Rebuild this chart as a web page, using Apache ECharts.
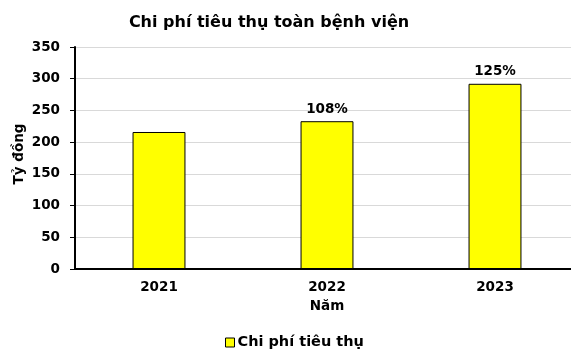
<!DOCTYPE html>
<html>
<head>
<meta charset="utf-8">
<script src="https://cdn.jsdelivr.net/npm/echarts@6/dist/echarts.min.js"></script>
<style>
  html, body { margin: 0; padding: 0; background: #ffffff; }
  #chart { width: 571px; height: 349px; }
</style>
</head>
<body>
<div id="chart"></div>
<script>
// Hospital-wide consumption cost, billions of VND
const years = ['2021', '2022', '2023'];
const costValues = [216, 233, 292];
// Year-on-year ratio shown above each bar (none for the first year)
const growthLabels = ['', '108%', '125%'];
const yTicks = { min: 0, max: 350, step: 50 };

const FONT = '"DejaVu Sans", "Liberation Sans", Arial, sans-serif';
const txt = (size) => ({ fontFamily: FONT, fontSize: size, fontWeight: 'bold', color: '#000' });

const chart = echarts.init(document.getElementById('chart'));
chart.setOption({
  backgroundColor: '#ffffff',
  animation: false,
  textStyle: { fontFamily: FONT },
  title: {
    text: 'Chi phí tiêu thụ toàn bệnh viện',
    left: 264,
    top: 10,
    textAlign: 'center',
    textStyle: txt(16)
  },
  legend: {
    data: ['Chi phí tiêu thụ'],
    left: 220,
    top: 330,
    icon: 'rect',
    itemWidth: 9,
    itemHeight: 9,
    itemGap: 4,
    itemStyle: { borderColor: '#000', borderWidth: 1 },
    textStyle: Object.assign(txt(14.5), { padding: [0, 0, 0, -2] })
  },
  grid: { left: 75, top: 47, width: 504, height: 222, outerBoundsMode: 'none', containLabel: false },
  xAxis: {
    type: 'category',
    data: years,
    name: 'Năm',
    nameLocation: 'middle',
    nameGap: 30,
    nameMoveOverlap: false,
    nameTextStyle: Object.assign(txt(13.5), { verticalAlign: 'top' }),
    axisLine: { lineStyle: { color: '#000', width: 2 } },
    axisTick: { show: false },
    axisLabel: Object.assign(txt(13.5), { margin: 11 })
  },
  yAxis: {
    type: 'value',
    min: yTicks.min,
    max: yTicks.max,
    interval: yTicks.step,
    name: 'Tỷ đồng',
    nameLocation: 'middle',
    nameGap: 49,
    nameRotate: 90,
    nameMoveOverlap: false,
    nameTextStyle: Object.assign(txt(13.5), { padding: [0, 0, 0, 8] }),
    axisLine: { show: true, lineStyle: { color: '#000', width: 2 } },
    axisTick: { show: true, length: 5, lineStyle: { color: '#000', width: 1 } },
    axisLabel: Object.assign(txt(13.5), { margin: 15 }),
    splitLine: { show: true, lineStyle: { color: '#d9d9d9', width: 1 } }
  },
  series: [{
    name: 'Chi phí tiêu thụ',
    type: 'bar',
    data: costValues,
    barWidth: '31.5%',
    itemStyle: { color: '#ffff00', borderColor: '#000', borderWidth: 1 },
    label: Object.assign(txt(13.5), {
      show: true,
      position: 'top',
      distance: 5,
      formatter: p => growthLabels[p.dataIndex]
    })
  }]
});
</script>
</body>
</html>
